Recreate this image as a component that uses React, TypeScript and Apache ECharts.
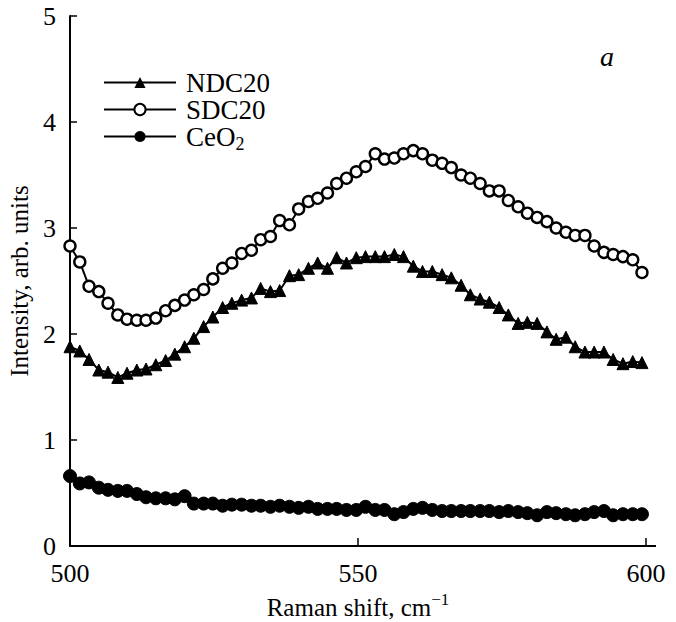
import React, { useEffect, useRef } from "react";
import * as echarts from "echarts";

const ramanShift = [
  500.0, 501.7, 503.3, 505.0, 506.6, 508.3, 509.9, 511.6, 513.2, 514.9,
  516.6, 518.2, 519.9, 521.5, 523.2, 524.8, 526.5, 528.1, 529.8, 531.5,
  533.1, 534.8, 536.4, 538.1, 539.7, 541.4, 543.0, 544.7, 546.3, 548.0,
  549.7, 551.3, 553.0, 554.6, 556.3, 557.9, 559.6, 561.2, 562.9, 564.6,
  566.2, 567.9, 569.5, 571.2, 572.8, 574.5, 576.1, 577.8, 579.4, 581.1,
  582.8, 584.4, 586.1, 587.7, 589.4, 591.0, 592.7, 594.3, 596.0, 597.7,
  599.3,
];

const ndc20 = [
  1.88, 1.84, 1.76, 1.66, 1.64, 1.59, 1.63, 1.66, 1.67, 1.71,
  1.75, 1.81, 1.88, 1.96, 2.07, 2.16, 2.25, 2.29, 2.32, 2.34,
  2.43, 2.40, 2.41, 2.55, 2.56, 2.62, 2.67, 2.62, 2.72, 2.67,
  2.72, 2.73, 2.73, 2.73, 2.75, 2.73, 2.64, 2.59, 2.59, 2.56,
  2.53, 2.46, 2.37, 2.33, 2.30, 2.25, 2.18, 2.10, 2.11, 2.10,
  2.02, 1.95, 1.97, 1.88, 1.83, 1.83, 1.83, 1.76, 1.72, 1.74,
  1.73,
];

const sdc20 = [
  2.83, 2.68, 2.45, 2.40, 2.29, 2.18, 2.14, 2.13, 2.13, 2.15,
  2.22, 2.27, 2.32, 2.37, 2.42, 2.52, 2.62, 2.67, 2.76, 2.79,
  2.89, 2.92, 3.07, 3.03, 3.18, 3.25, 3.28, 3.33, 3.42, 3.47,
  3.53, 3.58, 3.70, 3.65, 3.66, 3.70, 3.73, 3.70, 3.64, 3.61,
  3.57, 3.50, 3.47, 3.42, 3.35, 3.35, 3.26, 3.20, 3.14, 3.10,
  3.06, 3.00, 2.96, 2.93, 2.93, 2.83, 2.77, 2.75, 2.73, 2.70,
  2.58,
];

const ceo2 = [
  0.66, 0.59, 0.60, 0.55, 0.53, 0.52, 0.52, 0.49, 0.46, 0.45,
  0.45, 0.44, 0.47, 0.40, 0.40, 0.40, 0.38, 0.39, 0.39, 0.38,
  0.38, 0.37, 0.38, 0.37, 0.36, 0.37, 0.35, 0.35, 0.35, 0.34,
  0.34, 0.37, 0.34, 0.34, 0.30, 0.32, 0.35, 0.36, 0.34, 0.33,
  0.33, 0.33, 0.33, 0.33, 0.33, 0.32, 0.33, 0.32, 0.31, 0.29,
  0.32, 0.31, 0.30, 0.29, 0.30, 0.32, 0.33, 0.29, 0.30, 0.30,
  0.30,
];

const xTicks = { min: 500, max: 600, interval: 50 };
const yTicks = { min: 0, max: 5, interval: 1 };

const FONT = "'Liberation Serif', 'Times New Roman', serif";

function pairs(ys: number[]) {
  return ys.map((y, i) => [ramanShift[i], y]);
}

export default function App() {
  const ref = useRef<HTMLDivElement>(null);
  useEffect(() => {
    if (!ref.current) return;
    const chart = echarts.init(ref.current, undefined, { renderer: "svg" });
    chart.setOption({
      animation: false,
      backgroundColor: "#ffffff",
      textStyle: { fontFamily: FONT, color: "#000" },
      grid: { left: 70, right: 30, top: 16, bottom: 76, containLabel: false, outerBoundsMode: "none" },
      legend: {
        orient: "vertical",
        left: 98,
        top: 64,
        itemWidth: 72,
        itemHeight: 14,
        itemGap: 0,
        data: ["NDC20", "SDC20", "CeO2"],
        formatter: (name: string) => (name === "CeO2" ? "{n|CeO}{sub|2}" : `{n|${name}}`),
        textStyle: {
          fontFamily: FONT,
          fontSize: 26,
          color: "#000",
          rich: {
            n: { fontFamily: FONT, fontSize: 27, lineHeight: 26, color: "#000", padding: [0, 0, 0, 5] },
            sub: { fontFamily: FONT, fontSize: 18, verticalAlign: "bottom", lineHeight: 33, color: "#000" },
          },
        },
      },
      xAxis: {
        type: "value",
        min: xTicks.min,
        max: xTicks.max,
        interval: xTicks.interval,
        name: "{n|Raman shift, cm}{sup|−1}",
        nameLocation: "middle",
        nameGap: 40,
        nameTextStyle: {
          fontFamily: FONT,
          fontSize: 25,
          color: "#000",
          rich: {
            n: { fontFamily: FONT, fontSize: 25, lineHeight: 26, color: "#000" },
            sup: { fontFamily: FONT, fontSize: 17, verticalAlign: "top", lineHeight: 34, color: "#000" },
          },
        },
        axisLine: { lineStyle: { color: "#000", width: 2 } },
        axisTick: { inside: true, length: 8, lineStyle: { color: "#000", width: 1.5 } },
        axisLabel: { fontFamily: FONT, fontSize: 26, color: "#000", margin: 14 },
        splitLine: { show: false },
      },
      yAxis: {
        type: "value",
        min: yTicks.min,
        max: yTicks.max,
        interval: yTicks.interval,
        name: "Intensity, arb. units",
        nameLocation: "middle",
        nameGap: 36,
        nameTextStyle: { fontFamily: FONT, fontSize: 25, color: "#000" },
        axisLine: { show: true, lineStyle: { color: "#000", width: 2 } },
        axisTick: { show: true, inside: true, length: 7, lineStyle: { color: "#000", width: 1.5 } },
        axisLabel: { fontFamily: FONT, fontSize: 26, color: "#000", margin: 14 },
        splitLine: { show: false },
      },
      graphic: [
        {
          type: "text",
          left: 600,
          top: 42,
          style: { text: "a", font: `italic 28px ${FONT}`, fill: "#000" },
        },
        {
          type: "line",
          shape: { x1: 645, y1: 546, x2: 656, y2: 546 },
          style: { stroke: "#000", lineWidth: 2 },
        },
      ],
      series: [
        {
          name: "NDC20",
          type: "line",
          data: pairs(ndc20),
          symbol: "triangle",
          symbolSize: 12,
          showAllSymbol: true,
          lineStyle: { color: "#000", width: 2 },
          itemStyle: { color: "#000", borderColor: "#000" },
        },
        {
          name: "SDC20",
          type: "line",
          data: pairs(sdc20),
          symbol: "circle",
          symbolSize: 11,
          showAllSymbol: true,
          lineStyle: { color: "#000", width: 2 },
          itemStyle: { color: "#fff", borderColor: "#000", borderWidth: 2.4 },
        },
        {
          name: "CeO2",
          type: "line",
          data: pairs(ceo2),
          symbol: "circle",
          symbolSize: 13,
          showAllSymbol: true,
          lineStyle: { color: "#000", width: 2 },
          itemStyle: { color: "#000", borderColor: "#000" },
        },
      ],
    });
    return () => chart.dispose();
  }, []);
  return (
    <div
      ref={ref}
      style={{ position: "fixed", left: 0, top: 0, width: 676, height: 622, background: "#fff" }}
    />
  );
}
